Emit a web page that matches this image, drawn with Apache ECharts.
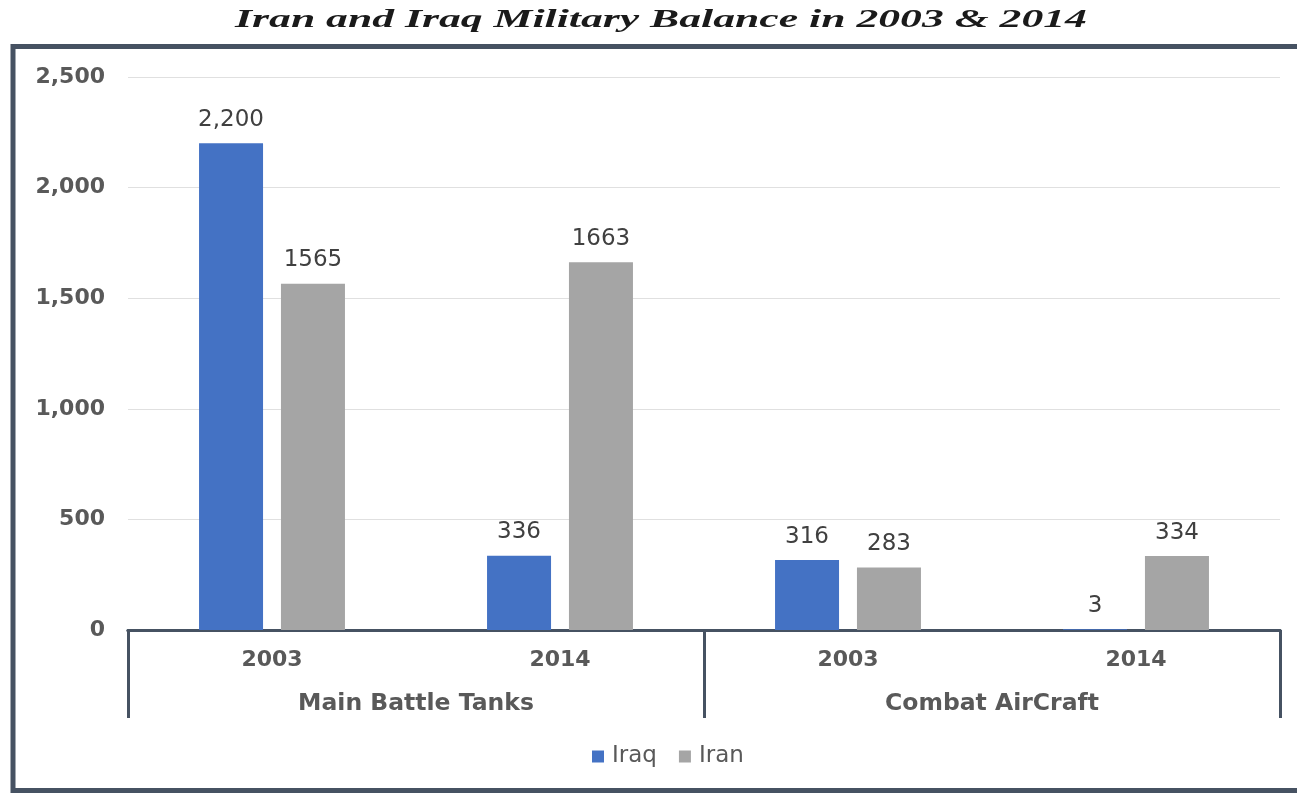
<!DOCTYPE html>
<html>
<head>
<meta charset="utf-8">
<script src="https://cdn.jsdelivr.net/npm/echarts@6/dist/echarts.min.js"></script>
<style>
  html, body { margin: 0; padding: 0; background: #ffffff; }
  #chart { width: 1297px; height: 793px; }
</style>
</head>
<body>
<div id="chart"></div>
<script>
// Categories: year within each equipment group
const years = ['2003', '2014', '2003', '2014'];
const groups = ['Main Battle Tanks', 'Combat AirCraft'];

// Inventory counts
const iraqValues = [2200, 336, 316, 3];
const iranValues = [1565, 1663, 283, 334];

// Printed value labels
const iraqLabels = ['2,200', '336', '316', '3'];
const iranLabels = ['1565', '1663', '283', '334'];

const seriesNames = ['Iraq', 'Iran'];
const yTicks = [0, 500, 1000, 1500, 2000, 2500];
const titleText = 'Iran and Iraq Military Balance in 2003 & 2014';

const chart = echarts.init(document.getElementById('chart'), null, { renderer: 'canvas' });

const dark = '#465262';
const textGray = '#595959';
const sans = 'DejaVu Sans';

chart.setOption({
  backgroundColor: '#ffffff',
  animation: false,
  graphic: [{
    type: 'text',
    x: 661,
    y: 20,
    scaleX: 1.68,
    style: {
      text: titleText,
      fontFamily: 'Liberation Serif',
      fontStyle: 'italic',
      fontWeight: 'bold',
      fontSize: 26,
      fill: '#1a1a1a',
      align: 'center',
      verticalAlign: 'middle'
    }
  }, {
    type: 'rect',
    shape: { x: 13, y: 46.5, width: 1290, height: 744 },
    style: { fill: 'none', stroke: dark, lineWidth: 5 },
    z: 100
  }],
  legend: {
    data: seriesNames,
    top: 740,
    left: 587,
    itemWidth: 12,
    itemHeight: 12,
    itemGap: 22,
    icon: 'rect',
    textStyle: { fontFamily: sans, fontSize: 23, color: textGray, padding: [0, 0, 0, 3] }
  },
  grid: { left: 128, right: 17, top: 77, bottom: 163, containLabel: false },
  xAxis: [{
    type: 'category',
    data: years,
    position: 'bottom',
    axisLine: { show: true, lineStyle: { color: dark, width: 3 } },
    axisTick: { show: false },
    axisLabel: {
      margin: 19,
      fontFamily: sans,
      fontWeight: 'bold',
      fontSize: 22,
      color: textGray
    }
  }, {
    type: 'category',
    data: groups,
    position: 'bottom',
    axisLine: { show: true, lineStyle: { color: dark, width: 3 } },
    axisTick: { show: true, length: 88, lineStyle: { color: dark, width: 3 } },
    axisLabel: {
      margin: 62,
      fontFamily: sans,
      fontWeight: 'bold',
      fontSize: 23.5,
      color: textGray
    }
  }],
  yAxis: {
    type: 'value',
    min: yTicks[0],
    max: yTicks[yTicks.length - 1],
    interval: 500,
    axisLine: { show: false },
    axisTick: { show: false },
    splitLine: { lineStyle: { color: '#e0e0e0', width: 1 } },
    axisLabel: {
      margin: 23,
      fontFamily: sans,
      fontWeight: 'bold',
      fontSize: 22,
      color: textGray,
      formatter: v => v.toLocaleString('en-US')
    }
  },
  series: [{
    name: seriesNames[0],
    type: 'bar',
    xAxisIndex: 0,
    data: iraqValues,
    barWidth: 64,
    barGap: '28%',
    itemStyle: { color: '#4472C4' },
    label: {
      show: true,
      position: 'top',
      distance: 12,
      fontFamily: sans,
      fontSize: 23,
      color: '#404040',
      formatter: p => iraqLabels[p.dataIndex]
    }
  }, {
    name: seriesNames[1],
    type: 'bar',
    xAxisIndex: 0,
    data: iranValues,
    barWidth: 64,
    barGap: '28%',
    itemStyle: { color: '#A5A5A5' },
    label: {
      show: true,
      position: 'top',
      distance: 12,
      fontFamily: sans,
      fontSize: 23,
      color: '#404040',
      formatter: p => iranLabels[p.dataIndex]
    }
  }]
});
</script>
</body>
</html>
